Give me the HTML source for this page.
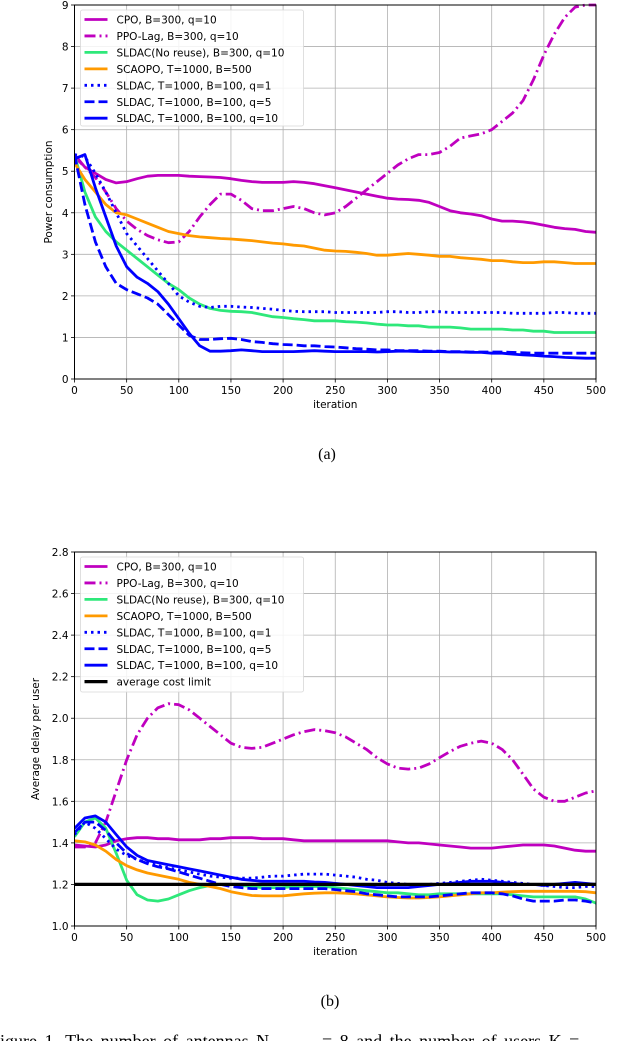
<!DOCTYPE html>
<html><head><meta charset="utf-8"><style>
html,body{margin:0;padding:0;background:#fff;width:640px;height:1041px;overflow:hidden}
svg{display:block}
text{font-family:"DejaVu Sans","Liberation Sans",sans-serif}
</style></head><body>
<svg id="fig" width="640" height="1041" viewBox="0 0 640 1041" xmlns="http://www.w3.org/2000/svg"></svg>
<script>
const xStep = 10;
const topCPO=[5.4,5.1,4.95,4.8,4.72,4.75,4.82,4.88,4.9,4.9,4.9,4.88,4.87,4.86,4.85,4.82,4.78,4.75,4.73,4.73,4.73,4.75,4.73,4.7,4.65,4.6,4.55,4.5,4.45,4.4,4.35,4.33,4.32,4.3,4.25,4.15,4.05,4.0,3.97,3.93,3.85,3.8,3.8,3.78,3.75,3.7,3.65,3.62,3.6,3.55,3.53];
const topPPO=[5.35,5.1,4.85,4.5,4.1,3.8,3.6,3.45,3.35,3.28,3.3,3.55,3.9,4.2,4.45,4.45,4.3,4.1,4.05,4.05,4.1,4.15,4.1,4.0,3.95,4.0,4.15,4.35,4.55,4.75,4.95,5.15,5.3,5.4,5.4,5.45,5.6,5.8,5.85,5.9,6.0,6.2,6.4,6.7,7.2,7.8,8.3,8.7,8.95,9.0,9.0];
const topNoReuse=[5.4,4.5,3.9,3.55,3.3,3.1,2.9,2.7,2.5,2.3,2.15,1.95,1.8,1.7,1.65,1.63,1.62,1.6,1.55,1.5,1.48,1.45,1.43,1.4,1.4,1.4,1.38,1.37,1.35,1.32,1.3,1.3,1.28,1.28,1.25,1.25,1.25,1.23,1.2,1.2,1.2,1.2,1.18,1.18,1.15,1.15,1.12,1.12,1.12,1.12,1.12];
const topSCAOPO=[5.2,4.8,4.5,4.2,4.0,3.95,3.85,3.75,3.65,3.55,3.5,3.45,3.42,3.4,3.38,3.37,3.35,3.33,3.3,3.27,3.25,3.22,3.2,3.15,3.1,3.08,3.07,3.05,3.02,2.98,2.98,3.0,3.02,3.0,2.98,2.95,2.95,2.92,2.9,2.88,2.85,2.85,2.82,2.8,2.8,2.82,2.82,2.8,2.78,2.78,2.78];
const topQ1=[5.4,5.35,4.95,4.5,4.0,3.5,3.2,2.9,2.6,2.3,2.0,1.85,1.75,1.72,1.75,1.75,1.73,1.72,1.7,1.68,1.65,1.63,1.62,1.62,1.62,1.6,1.6,1.6,1.6,1.6,1.62,1.62,1.6,1.6,1.62,1.62,1.6,1.6,1.6,1.6,1.6,1.6,1.58,1.58,1.58,1.58,1.6,1.6,1.58,1.58,1.58];
const topQ5=[5.4,4.2,3.3,2.7,2.3,2.15,2.05,1.95,1.8,1.55,1.3,1.05,0.95,0.95,0.97,0.98,0.95,0.9,0.88,0.85,0.83,0.82,0.8,0.8,0.78,0.77,0.75,0.73,0.72,0.7,0.7,0.68,0.68,0.68,0.67,0.67,0.66,0.66,0.65,0.65,0.65,0.65,0.64,0.63,0.62,0.62,0.62,0.62,0.62,0.62,0.62];
const topQ10=[5.3,5.4,4.6,3.9,3.2,2.7,2.45,2.3,2.1,1.8,1.45,1.1,0.8,0.67,0.67,0.68,0.7,0.68,0.66,0.66,0.66,0.66,0.67,0.68,0.67,0.66,0.66,0.66,0.66,0.65,0.66,0.67,0.67,0.66,0.66,0.66,0.65,0.65,0.64,0.64,0.62,0.62,0.6,0.58,0.57,0.55,0.54,0.52,0.51,0.5,0.5];
const botCPO=[1.39,1.385,1.38,1.39,1.41,1.42,1.425,1.425,1.42,1.42,1.415,1.415,1.415,1.42,1.42,1.425,1.425,1.425,1.42,1.42,1.42,1.415,1.41,1.41,1.41,1.41,1.41,1.41,1.41,1.41,1.41,1.405,1.4,1.4,1.395,1.39,1.385,1.38,1.375,1.375,1.375,1.38,1.385,1.39,1.39,1.39,1.385,1.375,1.365,1.36,1.36];
const botPPO=[1.38,1.38,1.4,1.5,1.65,1.8,1.92,2.0,2.05,2.07,2.065,2.04,2.0,1.96,1.92,1.88,1.86,1.855,1.86,1.88,1.9,1.92,1.935,1.945,1.94,1.93,1.91,1.88,1.85,1.81,1.78,1.76,1.755,1.76,1.78,1.81,1.84,1.865,1.88,1.89,1.88,1.85,1.8,1.73,1.66,1.62,1.6,1.6,1.62,1.64,1.65];
const botNoReuse=[1.43,1.5,1.52,1.47,1.35,1.22,1.15,1.125,1.12,1.13,1.15,1.17,1.185,1.195,1.2,1.2,1.195,1.19,1.185,1.185,1.185,1.19,1.19,1.19,1.19,1.185,1.18,1.175,1.17,1.165,1.16,1.16,1.155,1.15,1.15,1.155,1.155,1.155,1.155,1.155,1.155,1.155,1.15,1.145,1.14,1.14,1.14,1.14,1.14,1.13,1.11];
const botSCAOPO=[1.41,1.405,1.39,1.36,1.32,1.29,1.27,1.255,1.245,1.235,1.225,1.21,1.2,1.19,1.18,1.165,1.155,1.147,1.145,1.145,1.145,1.15,1.155,1.158,1.16,1.16,1.158,1.155,1.15,1.145,1.14,1.137,1.135,1.135,1.137,1.14,1.145,1.15,1.155,1.16,1.16,1.163,1.165,1.167,1.167,1.167,1.167,1.167,1.167,1.165,1.16];
const botQ1=[1.44,1.5,1.47,1.42,1.37,1.34,1.32,1.305,1.29,1.28,1.27,1.26,1.25,1.24,1.235,1.23,1.23,1.23,1.235,1.24,1.24,1.245,1.25,1.25,1.25,1.245,1.24,1.235,1.225,1.22,1.21,1.205,1.2,1.2,1.2,1.205,1.21,1.215,1.22,1.225,1.22,1.215,1.21,1.205,1.2,1.195,1.19,1.185,1.185,1.19,1.19];
const botQ5=[1.45,1.5,1.5,1.46,1.4,1.35,1.32,1.3,1.285,1.275,1.26,1.245,1.23,1.215,1.2,1.19,1.185,1.18,1.18,1.18,1.18,1.18,1.18,1.18,1.18,1.175,1.17,1.165,1.155,1.15,1.145,1.14,1.14,1.14,1.14,1.145,1.15,1.155,1.16,1.16,1.16,1.155,1.145,1.13,1.12,1.12,1.12,1.125,1.125,1.12,1.11];
const botQ10=[1.47,1.52,1.53,1.5,1.44,1.38,1.34,1.315,1.305,1.295,1.285,1.275,1.265,1.255,1.245,1.235,1.225,1.22,1.215,1.215,1.215,1.215,1.215,1.212,1.21,1.205,1.2,1.195,1.19,1.185,1.185,1.185,1.185,1.19,1.195,1.2,1.205,1.21,1.215,1.215,1.215,1.21,1.205,1.2,1.2,1.195,1.2,1.205,1.21,1.205,1.2];
const costLimit=[1.2,1.2];
const xTicks=[0,50,100,150,200,250,300,350,400,450,500];
const topYTicks=[0,1,2,3,4,5,6,7,8,9];
const botYTicks=[1.0,1.2,1.4,1.6,1.8,2.0,2.2,2.4,2.6,2.8];
const seriesNames=["CPO, B=300, q=10","PPO-Lag, B=300, q=10","SLDAC(No reuse), B=300, q=10","SCAOPO, T=1000, B=500","SLDAC, T=1000, B=100, q=1","SLDAC, T=1000, B=100, q=5","SLDAC, T=1000, B=100, q=10"];

const NS="http://www.w3.org/2000/svg";
const svg=document.getElementById('fig');
function mk(tag,attrs,parent){const e=document.createElementNS(NS,tag);for(const k in attrs)e.setAttribute(k,attrs[k]);(parent||svg).appendChild(e);return e;}
const styles=[
 {c:"#bf00bf",d:""},{c:"#bf00bf",d:"11,4,2,4"},{c:"#2ee87a",d:""},{c:"#ff9a00",d:""},
 {c:"#0000ff",d:"2.5,4"},{c:"#0000ff",d:"10,4"},{c:"#0000ff",d:""},{c:"#000000",d:""}];

function chart(cfg){
  const {L,R,T,B,ymin,ymax,yTicks,fmt,series,names,legendTop,legendH,xlabel,ylabel,ylx,prefix}=cfg;
  const g=mk('g',{});  
  const xs=v=>L+(v-0)/(500-0)*(R-L);
  const ys=v=>B-(v-ymin)/(ymax-ymin)*(B-T);
  const grid=mk('g',{},g);  
  xTicks.forEach(t=>{mk('line',{x1:xs(t),x2:xs(t),y1:T,y2:B,stroke:"#b0b0b0","stroke-width":0.8},grid);
    mk('line',{x1:xs(t),x2:xs(t),y1:B,y2:B+3.5,stroke:"#000","stroke-width":0.8},grid);
    const tx=mk('text',{x:xs(t),y:B+15,"font-size":10.5,"text-anchor":"middle"},g);tx.textContent=t;
     });
  yTicks.forEach(t=>{mk('line',{x1:L,x2:R,y1:ys(t),y2:ys(t),stroke:"#b0b0b0","stroke-width":0.8},grid);
    mk('line',{x1:L-3.5,x2:L,y1:ys(t),y2:ys(t),stroke:"#000","stroke-width":0.8},grid);
    const tx=mk('text',{x:L-6,y:ys(t)+4,"font-size":10.5,"text-anchor":"end"},g);tx.textContent=fmt(t);
     });
  const cp=mk('clipPath',{id:prefix+'clip'},g);
  mk('rect',{x:L,y:T-1.5,width:R-L,height:B-T+1.5},cp);
  series.forEach((arr,i)=>{
    const step=arr.length===2?500:xStep;
    const pts=arr.map((v,j)=>xs(j*step).toFixed(1)+','+ys(v).toFixed(1)).join(' ');
    const st=styles[i];
    const p=mk('polyline',{points:pts,fill:"none",stroke:st.c,"stroke-width":i===7?3.2:2.8,"stroke-linejoin":"round","clip-path":`url(#${prefix}clip)`},g);
    if(st.d)p.setAttribute('stroke-dasharray',st.d);
    
    
  });
  const fr=mk('rect',{x:L,y:T,width:R-L,height:B-T,fill:"none",stroke:"#000","stroke-width":1},g);
   
  const lg=mk('g',{},g);  
  mk('rect',{x:L+6,y:legendTop,width:223,height:legendH,rx:2,fill:"#fff","fill-opacity":0.85,stroke:"#d8d8d8","stroke-width":0.8},lg);
  names.forEach((n,i)=>{
    const y=legendTop+9.5+i*16.45; const st=styles[i];
    const ln=mk('line',{x1:L+10,x2:L+33,y1:y,y2:y,stroke:st.c,"stroke-width":i===7?3.2:2.8},lg);
    if(st.d)ln.setAttribute('stroke-dasharray',st.d);
    const tx=mk('text',{x:L+42,y:y+4,"font-size":10.5},lg);tx.textContent=n;
     
  });
  const xl=mk('text',{x:(L+R)/2,y:B+29,"font-size":10.5,"text-anchor":"middle"},g);xl.textContent=xlabel;
   
  const cy=(T+B)/2;
  const yl=mk('text',{x:ylx,y:cy,"font-size":10.5,"text-anchor":"middle",transform:`rotate(-90 ${ylx} ${cy})`},g);yl.textContent=ylabel;
   
}
chart({L:74.5,R:596,T:5,B:379,ymin:0,ymax:9,yTicks:topYTicks,fmt:t=>t,
  series:[topCPO,topPPO,topNoReuse,topSCAOPO,topQ1,topQ5,topQ10],names:seriesNames,legendTop:10,legendH:116,
  xlabel:"iteration",ylabel:"Power consumption",ylx:52,prefix:"top"});
chart({L:74.5,R:596,T:552,B:926,ymin:1.0,ymax:2.8,yTicks:botYTicks,fmt:t=>t.toFixed(1),
  series:[botCPO,botPPO,botNoReuse,botSCAOPO,botQ1,botQ5,botQ10,costLimit],names:seriesNames.concat(["average cost limit"]),legendTop:557,legendH:135,
  xlabel:"iteration",ylabel:"Average delay per user",ylx:39,prefix:"bot"});
function cap(t,x,y,fs,name,anchor){const e=mk('text',{x:x,y:y,"font-size":fs,"text-anchor":anchor||"middle"});e.textContent=t;
  e.style.fontFamily="'Liberation Serif',serif";return e;}
cap("(a)",327,459,16,"caption-a");
cap("(b)",330,1006,16,"caption-b");
const fc=cap("Figure 1.   The number of antennas N",-10,1047,18,"figure-caption","start");
fc.setAttribute('word-spacing','3');
cap("t",294,1048,12,"caption-subscript","start");
const fc2=cap("= 8 and the number of users K =",322,1047,18,"figure-caption-cont","start");
fc2.setAttribute('word-spacing','3');
</script>
</body></html>
